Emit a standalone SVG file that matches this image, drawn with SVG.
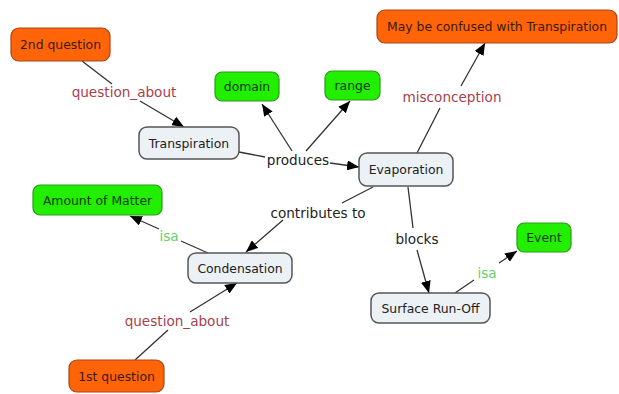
<svg xmlns="http://www.w3.org/2000/svg" width="619" height="394" viewBox="0 0 619 394">
<style>
text{font-family:"DejaVu Sans","Liberation Sans",sans-serif;font-size:12.4px;text-anchor:middle;dominant-baseline:central}
.q rect{fill:#ff6508;stroke:#a8441a;stroke-width:1.2}
.g rect{fill:#22ee00;stroke:#2a9a1a;stroke-width:1.2}
.c rect{fill:#ecf1f5;stroke:#555;stroke-width:1.5}
.n text{fill:#222}
.q text{fill:#3a1a0a}
.g text{fill:#0a3a0a}
.l{font-size:13.6px}
.lr{fill:#a8404c}
.lg{fill:#66d066}
.lb{fill:#222}
.e{stroke:#333;stroke-width:1.3;fill:none}
</style>
<defs>
<marker id="ah" viewBox="0 0 12 10" refX="12" refY="5" markerWidth="12" markerHeight="10" markerUnits="userSpaceOnUse" orient="auto">
<path d="M0,0 L12,5 L0,10 z" fill="#000"/>
</marker>
</defs>
<rect width="619" height="394" fill="#fff"/>
<g id="connectors">
<path class="e" d="M82,61 L112,84"/>
<path class="e" d="M140,101 L184,127" marker-end="url(#ah)"/>
<path class="e" d="M239,152 L265,157"/>
<path class="e" d="M292,151 L262,104" marker-end="url(#ah)"/>
<path class="e" d="M306,151 L350,101" marker-end="url(#ah)"/>
<path class="e" d="M330,163 L359,167" marker-end="url(#ah)"/>
<path class="e" d="M417,153 L440,108"/>
<path class="e" d="M461,86 L485,43" marker-end="url(#ah)"/>
<path class="e" d="M373,187 L342,203"/>
<path class="e" d="M283,220 L246,252" marker-end="url(#ah)"/>
<path class="e" d="M408,187 L413,228"/>
<path class="e" d="M417,250 L429,293" marker-end="url(#ah)"/>
<path class="e" d="M455,293 L474,280"/>
<path class="e" d="M499,263 L517,251" marker-end="url(#ah)"/>
<path class="e" d="M208,253 L181,241"/>
<path class="e" d="M159,229 L130,216" marker-end="url(#ah)"/>
<path class="e" d="M135,360 L168,330"/>
<path class="e" d="M190,312 L237,283" marker-end="url(#ah)"/>
<text class="l lr" x="124" y="92">question_about</text>
<text class="l lb" x="298" y="160">produces</text>
<text class="l lr" x="452" y="97">misconception</text>
<text class="l lb" x="318" y="213">contributes to</text>
<text class="l lb" x="417" y="239">blocks</text>
<text class="l lg" x="169" y="236">isa</text>
<text class="l lr" x="177" y="321">question_about</text>
<text class="l lg" x="487" y="273">isa</text>
</g>
<g id="n2nd" class="n q"><rect x="11" y="28" width="99" height="33" rx="8"/><text x="60.5" y="44.5">2nd question</text></g>
<g id="nConfused" class="n q"><rect x="377" y="10" width="240" height="33" rx="8"/><text x="497" y="26.5">May be confused with Transpiration</text></g>
<g id="nDomain" class="n g"><rect x="215" y="72" width="64" height="29" rx="7"/><text x="247" y="86.5">domain</text></g>
<g id="nRange" class="n g"><rect x="325" y="71" width="55" height="29" rx="7"/><text x="352.5" y="85.5">range</text></g>
<g id="nTranspiration" class="n c"><rect x="139" y="127" width="100" height="32" rx="8"/><text x="189" y="143">Transpiration</text></g>
<g id="nEvaporation" class="n c"><rect x="359" y="153" width="94" height="33" rx="8"/><text x="406" y="169.5">Evaporation</text></g>
<g id="nMatter" class="n g"><rect x="33" y="185" width="129" height="30" rx="7"/><text x="97.5" y="200">Amount of Matter</text></g>
<g id="nCondensation" class="n c"><rect x="188" y="253" width="104" height="30" rx="8"/><text x="240" y="268">Condensation</text></g>
<g id="nEvent" class="n g"><rect x="517" y="223" width="54" height="29" rx="7"/><text x="544" y="237.5">Event</text></g>
<g id="nRunoff" class="n c"><rect x="371" y="293" width="119" height="30" rx="8"/><text x="430.5" y="308">Surface Run-Off</text></g>
<g id="n1st" class="n q"><rect x="69" y="360" width="95" height="32" rx="8"/><text x="116.5" y="376">1st question</text></g>
</svg>
